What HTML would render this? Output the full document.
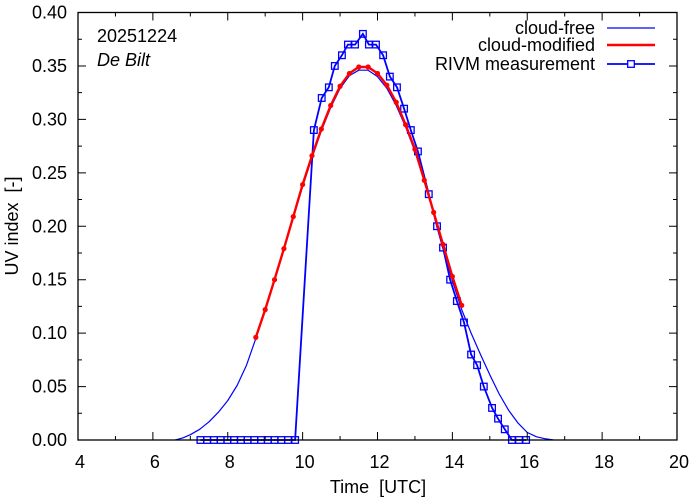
<!DOCTYPE html>
<html><head><meta charset="utf-8"><style>
html,body{margin:0;padding:0;background:#fff;}
svg{display:block;font-family:"Liberation Sans",Arial,sans-serif;}
</style></head><body>
<svg id="chart" width="694" height="501" viewBox="0 0 694 501" xmlns="http://www.w3.org/2000/svg">
<rect x="0" y="0" width="694" height="501" fill="#fff"/>
<g id="series"></g>
<rect x="78" y="12.5" width="599" height="427.5" fill="none" stroke="#000" stroke-width="1.3"/>
<g id="axes"></g>
<text x="97" y="42" font-size="18" fill="#000">20251224</text>
<text x="97" y="66" font-size="18" font-style="italic" fill="#000">De Bilt</text>
<text transform="translate(18,226) rotate(-90)" text-anchor="middle" font-size="18" xml:space="preserve">UV index  [-]</text>
<text x="378" y="493" text-anchor="middle" font-size="18" xml:space="preserve">Time  [UTC]</text>
<g id="legend"></g>
</svg>
<script>
const xTicks=[4,6,8,10,12,14,16,18,20];
const yTicks=[0,0.05,0.10,0.15,0.20,0.25,0.30,0.35,0.40];
const yTickLabels=["0.00","0.05","0.10","0.15","0.20","0.25","0.30","0.35","0.40"];
const freeT=[6.6,6.8,7.0,7.25,7.5,7.75,8.0,8.25,8.5,8.75,9.0,9.25,9.5,9.75,10.0,10.25,10.5,10.75,11.0,11.25,11.5,11.75,12.0,12.25,12.5,12.75,13.0,13.25,13.5,13.75,14.0,14.25,14.5,14.75,15.0,15.25,15.5,15.75,16.0,16.25,16.5,16.7];
const freeV=[0,0.002,0.005,0.010,0.017,0.026,0.037,0.051,0.070,0.095,0.121,0.149,0.178,0.208,0.237,0.264,0.289,0.311,0.329,0.341,0.346,0.346,0.340,0.329,0.313,0.293,0.270,0.242,0.212,0.180,0.149,0.122,0.100,0.080,0.061,0.043,0.028,0.016,0.007,0.003,0.001,0];
const modT=[8.75,9.0,9.25,9.5,9.75,10.0,10.25,10.5,10.75,11.0,11.25,11.5,11.75,12.0,12.25,12.5,12.75,13.0,13.25,13.5,13.75,14.0,14.25];
const modV=[0.096,0.122,0.150,0.179,0.209,0.239,0.266,0.291,0.313,0.331,0.343,0.349,0.349,0.343,0.332,0.316,0.295,0.272,0.243,0.213,0.183,0.153,0.126];
const measT=[7.27,7.45,7.63,7.81,7.99,8.17,8.35,8.53,8.71,8.89,9.07,9.25,9.43,9.61,9.80,10.30,10.51,10.70,10.86,11.05,11.21,11.40,11.61,11.77,11.96,12.15,12.33,12.52,12.71,12.89,13.08,13.37,13.59,13.75,13.94,14.12,14.31,14.50,14.66,14.84,15.06,15.22,15.40,15.59,15.78,15.97];
const measV=[0,0,0,0,0,0,0,0,0,0,0,0,0,0,0,0.29,0.32,0.33,0.35,0.36,0.37,0.37,0.38,0.37,0.37,0.36,0.34,0.33,0.31,0.29,0.27,0.23,0.20,0.18,0.15,0.13,0.11,0.08,0.07,0.05,0.03,0.02,0.01,0,0,0];
const legendLabels=["cloud-free","cloud-modified","RIVM measurement"];

const NS="http://www.w3.org/2000/svg";
const X0=78,X1=677,Y0=440,Y1=12.5;
const xs=v=>X0+(v-4)/(20-4)*(X1-X0);
const ys=v=>Y0-(v/0.4)*(Y0-Y1);
function mk(tag,attrs,parent){const e=document.createElementNS(NS,tag);for(const k in attrs)e.setAttribute(k,attrs[k]);parent.appendChild(e);return e;}
const axes=document.getElementById('axes'),series=document.getElementById('series'),legend=document.getElementById('legend');

xTicks.forEach((t,i)=>{
  const x=xs(t);
  const tk=mk('path',{d:`M${x},${Y0}v-8M${x},${Y1}v8`,stroke:'#000','stroke-width':1},axes);
  
  
  const lb=mk('text',{x:x+2,y:Y0+28,'text-anchor':'middle','font-size':18},axes);
  lb.textContent=String(t);
  
  
  if(i<xTicks.length-1){
    const xm=xs(t+1);
    const m=mk('path',{d:`M${xm},${Y0}v-4M${xm},${Y1}v4`,stroke:'#000','stroke-width':1},axes);
    
    
  }
});
yTicks.forEach((t,i)=>{
  const y=ys(t);
  const tk=mk('path',{d:`M${X0},${y}h8M${X1},${y}h-8`,stroke:'#000','stroke-width':1},axes);
  
  
  const lb=mk('text',{x:67,y:y+6,'text-anchor':'end','font-size':18},axes);
  lb.textContent=yTickLabels[i];
  
  
  if(i<yTicks.length-1){
    const ym=ys(t+0.025);
    const m=mk('path',{d:`M${X0},${ym}h4M${X1},${ym}h-4`,stroke:'#000','stroke-width':1},axes);
    
    
  }
});

function pts(T,V){return T.map((t,i)=>xs(t).toFixed(1)+','+ys(V[i]).toFixed(1)).join(' ');}
const free=mk('polyline',{points:pts(freeT,freeV),fill:'none',stroke:'#0000ff','stroke-width':1.2,'stroke-linejoin':'round'},series);


const meas=mk('polyline',{points:pts(measT,measV),fill:'none',stroke:'#0000ff','stroke-width':1.8},series);


measT.forEach((t,i)=>{
  const r=mk('rect',{x:xs(t)-3.3,y:ys(measV[i])-3.3,width:6.6,height:6.6,fill:'none',stroke:'#0000ff','stroke-width':1.3},series);
  
  
});
const mod=mk('polyline',{points:pts(modT,modV),fill:'none',stroke:'#ff0000','stroke-width':2.4},series);


modT.forEach((t,i)=>{
  const c=mk('circle',{cx:xs(t),cy:ys(modV[i]),r:2.6,fill:'#ff0000'},series);
  
  
});

const legY=[28,45,64],legC=['#0000ff','#ff0000','#0000ff'],legW=[1.2,2.4,1.8];
legendLabels.forEach((s,i)=>{
  const t=mk('text',{x:595,y:legY[i]+6,'text-anchor':'end','font-size':18},legend);
  t.textContent=s;
  
  
  const l=mk('line',{x1:607,x2:655,y1:legY[i],y2:legY[i],stroke:legC[i],'stroke-width':legW[i]},legend);
  
  
});
const ls=mk('rect',{x:631-3.3,y:legY[2]-3.3,width:6.6,height:6.6,fill:'#fff',stroke:'#0000ff','stroke-width':1.3},legend);


</script>
</body></html>
